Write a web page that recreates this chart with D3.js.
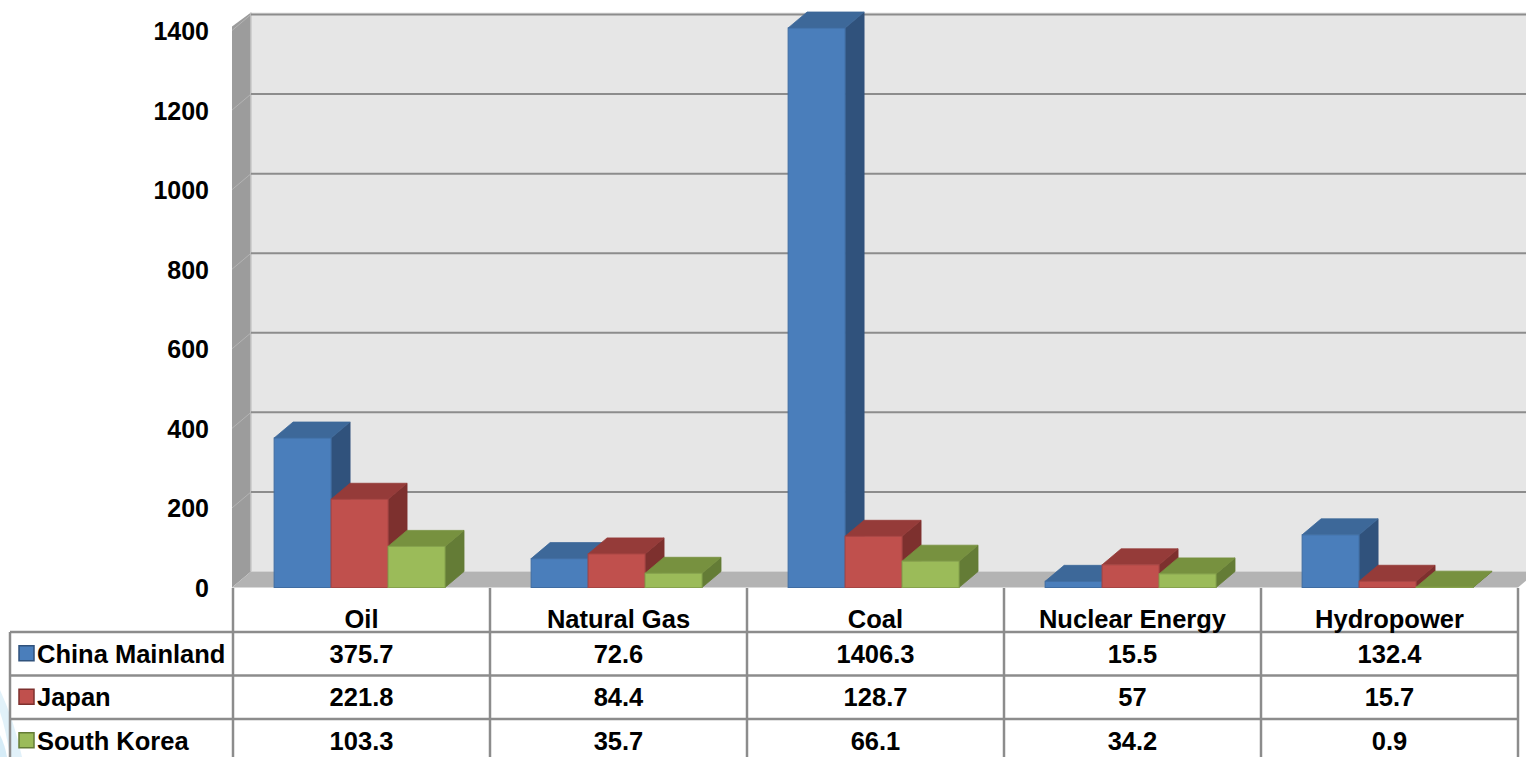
<!DOCTYPE html>
<html>
<head>
<meta charset="utf-8">
<script src="https://d3js.org/d3.v7.min.js"></script>
<style>
  body { margin: 0; background: #ffffff; }
  text {
    font-family: "Liberation Sans", Arial, sans-serif;
    font-weight: bold;
    fill: #000000;
  }
  .yaxis text { font-size: 25px; }
  .yaxis path { display: none; }
  .cell { font-size: 25.5px; }
</style>
</head>
<body>
<div id="chart"></div>
<script>

// data
const categories = ["Oil", "Natural Gas", "Coal", "Nuclear Energy", "Hydropower"];
const series = ["China Mainland", "Japan", "South Korea"];
const chinaValues = [375.7, 72.6, 1406.3, 15.5, 132.4];
const japanValues = [221.8, 84.4, 128.7, 57, 15.7];
const koreaValues = [103.3, 35.7, 66.1, 34.2, 0.9];
const yTicks = [0, 200, 400, 600, 800, 1000, 1200, 1400];

const seriesValues = [chinaValues, japanValues, koreaValues];

// colours: front, top, side
const colors = [
  { front: "#4a7ebb", top: "#3d6899", side: "#30527c" },
  { front: "#c0504d", top: "#953b39", side: "#7d302e" },
  { front: "#9bbb59", top: "#77913f", side: "#647c36" }
];

const W = 1526, H = 757;
const depth = { dx: 19, dy: -16 };

const svg = d3.select("#chart")
  .append("svg")
  .attr("width", W)
  .attr("height", H);

// light decoration bottom left
svg.append("path")
  .attr("d", "M0,690 Q14,720 22,757 L10,757 Q6,730 0,712 Z")
  .attr("fill", "#d9eef8")
  .attr("opacity", 0.8);
svg.append("path")
  .attr("d", "M0,735 Q5,745 7,757 L0,757 Z")
  .attr("fill", "#cce7f5")
  .attr("opacity", 0.8);

// scales
const x0 = d3.scaleBand()
  .domain(categories)
  .range([233, 1518])
  .padding(0);

const bw = x0.bandwidth();

const x1 = d3.scaleBand()
  .domain(series)
  .range([bw * 0.16, bw * 0.825])
  .padding(0);

const y = d3.scaleLinear()
  .domain([0, 1400])
  .range([587.5, 30.5]);

const left = x0.range()[0] - 1;
const right = x0.range()[1];

// walls
const backTop = y(1400) + depth.dy - 2;
svg.append("rect")
  .attr("x", left + depth.dx)
  .attr("y", backTop)
  .attr("width", right + depth.dx + 10 - (left + depth.dx))
  .attr("height", y(0) + depth.dy - backTop)
  .attr("fill", "#e6e6e6");

// side wall
svg.append("polygon")
  .attr("points", [
    [left, y(1400) - 4],
    [left + depth.dx, backTop],
    [left + depth.dx, y(0) + depth.dy],
    [left, y(0)]
  ].map(p => p.join(",")).join(" "))
  .attr("fill", "#9c9c9c");

// floor
svg.append("polygon")
  .attr("points", [
    [left, y(0)],
    [left + depth.dx, y(0) + depth.dy],
    [right + depth.dx, y(0) + depth.dy],
    [right, y(0)]
  ].map(p => p.join(",")).join(" "))
  .attr("fill", "#b3b3b3");

// back wall edge
svg.append("line")
  .attr("x1", left + depth.dx).attr("x2", left + depth.dx)
  .attr("y1", backTop).attr("y2", y(0) + depth.dy)
  .attr("stroke", "#c8c8c8")
  .attr("stroke-width", 1.5);

// gridlines on back wall
svg.selectAll("line.grid")
  .data(yTicks.filter(d => d > 0))
  .join("line")
  .attr("class", "grid")
  .attr("x1", left + depth.dx)
  .attr("x2", W)
  .attr("y1", d => y(d) + depth.dy)
  .attr("y2", d => y(d) + depth.dy)
  .attr("stroke", "#8c8c8c")
  .attr("stroke-width", 2);

// gridlines on side wall
svg.selectAll("line.sidegrid")
  .data(yTicks.filter(d => d > 0))
  .join("line")
  .attr("class", "sidegrid")
  .attr("x1", left)
  .attr("x2", left + depth.dx)
  .attr("y1", d => y(d))
  .attr("y2", d => y(d) + depth.dy)
  .attr("stroke", "#b4b4b4")
  .attr("stroke-width", 1);

// y axis labels
svg.append("g")
  .attr("class", "yaxis")
  .attr("transform", `translate(${left},0)`)
  .call(d3.axisLeft(y).tickValues(yTicks).tickFormat(d3.format("d"))
    .tickSize(0).tickPadding(23))
  .selectAll("text")
  .attr("dy", "0.36em");

// bars
const barData = [];
categories.forEach((cat, ci) => {
  series.forEach((s, si) => {
    barData.push({ cat: cat, s: s, si: si, v: seriesValues[si][ci] });
  });
});

const bars = svg.selectAll("g.bar")
  .data(barData)
  .join("g")
  .attr("class", "bar");

const pts = arr => arr.map(p => p.join(",")).join(" ");

bars.each(function (d) {
  const g = d3.select(this);
  const bx = x0(d.cat) + x1(d.s);
  const w = x1.bandwidth();
  const yt = y(d.v);
  const yb = y(0);
  const c = colors[d.si];

  // side
  g.append("polygon")
    .attr("points", pts([[bx + w, yt], [bx + w + depth.dx, yt + depth.dy],
      [bx + w + depth.dx, yb + depth.dy], [bx + w, yb]]))
    .attr("fill", c.side)
    .attr("stroke", c.side)
    .attr("stroke-width", 0.8);
  // top
  g.append("polygon")
    .attr("points", pts([[bx, yt], [bx + depth.dx, yt + depth.dy],
      [bx + w + depth.dx, yt + depth.dy], [bx + w, yt]]))
    .attr("fill", c.top)
    .attr("stroke", c.top)
    .attr("stroke-width", 0.8);
  // front
  g.append("rect")
    .attr("x", bx)
    .attr("y", yt)
    .attr("width", w)
    .attr("height", yb - yt)
    .attr("fill", c.front)
    .attr("stroke", d3.color(c.front).darker(0.4))
    .attr("stroke-width", 1);
});

// data table
const tableTop = 588;
const headerBottom = 632;
const rowH = 43.5;
const tableLeft = 10;
const rowLines = series.map((s, i) => headerBottom + i * rowH);
rowLines.push(headerBottom + series.length * rowH);

const table = svg.append("g");

// horizontal lines
table.selectAll("line.h")
  .data(rowLines)
  .join("line")
  .attr("x1", tableLeft)
  .attr("x2", right)
  .attr("y1", d => d)
  .attr("y2", d => d)
  .attr("stroke", "#8c8c8c")
  .attr("stroke-width", 2.5);

// vertical lines
const colEdges = categories.map(c => x0(c)).concat([right]);
table.selectAll("line.v")
  .data(colEdges)
  .join("line")
  .attr("x1", d => d)
  .attr("x2", d => d)
  .attr("y1", tableTop)
  .attr("y2", H)
  .attr("stroke", "#8c8c8c")
  .attr("stroke-width", 2.5);

table.append("line")
  .attr("x1", tableLeft).attr("x2", tableLeft)
  .attr("y1", headerBottom).attr("y2", H)
  .attr("stroke", "#8c8c8c")
  .attr("stroke-width", 2.5);

// header labels
table.selectAll("text.head")
  .data(categories)
  .join("text")
  .attr("class", "cell")
  .attr("x", d => x0(d) + bw / 2)
  .attr("y", headerBottom - 4)
  .attr("text-anchor", "middle")
  .text(d => d);

// legend keys and series names
series.forEach((s, si) => {
  const cy = headerBottom + si * rowH + rowH / 2;
  table.append("rect")
    .attr("x", 19)
    .attr("y", cy - 8)
    .attr("width", 15)
    .attr("height", 15)
    .attr("fill", colors[si].front)
    .attr("stroke", colors[si].side)
    .attr("stroke-width", 1.5);
  table.append("text")
    .attr("class", "cell")
    .attr("x", 37)
    .attr("y", cy + 9)
    .text(s);

  table.selectAll(null)
    .data(categories)
    .join("text")
    .attr("class", "cell")
    .attr("x", d => x0(d) + bw / 2)
    .attr("y", cy + 9)
    .attr("text-anchor", "middle")
    .text((d, ci) => String(seriesValues[si][ci]));
});

</script>
</body>
</html>
